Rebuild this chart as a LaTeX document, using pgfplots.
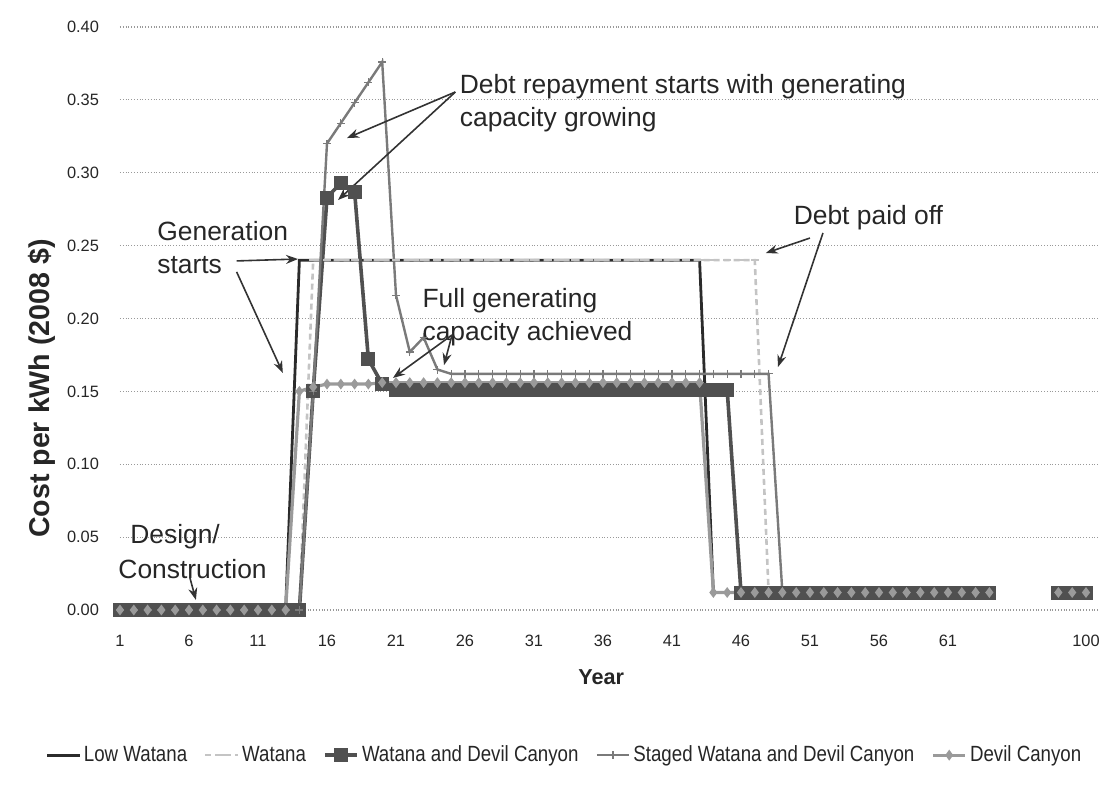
\documentclass[border=0pt]{standalone}
\usepackage{pgfplots}
\pgfplotsset{compat=1.18}
\usepackage{pgfplotstable}
\usetikzlibrary{arrows.meta}
\usepackage{fontspec}
\setmainfont{Liberation Sans}
\newfontfamily\narrowfont[FakeStretch=0.85]{Liberation Sans}

\definecolor{clw}{HTML}{2B2B2B}
\definecolor{cw}{HTML}{C4C4C4}
\definecolor{cwdc}{HTML}{505050}
\definecolor{cswdc}{HTML}{7A7A7A}
\definecolor{cdc}{HTML}{9A9A9A}
\definecolor{cann}{HTML}{333333}

\pgfplotstableread{
x lw w wdc swdc dc
1 0 0 0 0 0
2 0 0 0 0 0
3 0 0 0 0 0
4 0 0 0 0 0
5 0 0 0 0 0
6 0 0 0 0 0
7 0 0 0 0 0
8 0 0 0 0 0
9 0 0 0 0 0
10 0 0 0 0 0
11 0 0 0 0 0
12 0 0 0 0 0
13 0 0 0 0 0
14 0.24 0 0 0 0.150
15 0.24 0.24 0.150 0.150 0.153
16 0.24 0.24 0.283 0.320 0.155
17 0.24 0.24 0.293 0.334 0.155
18 0.24 0.24 0.287 0.348 0.155
19 0.24 0.24 0.172 0.362 0.155
20 0.24 0.24 0.155 0.376 0.156
21 0.24 0.24 0.151 0.216 0.156
22 0.24 0.24 0.151 0.177 0.156
23 0.24 0.24 0.151 0.187 0.156
24 0.24 0.24 0.151 0.165 0.156
25 0.24 0.24 0.151 0.162 0.156
26 0.24 0.24 0.151 0.162 0.156
27 0.24 0.24 0.151 0.162 0.156
28 0.24 0.24 0.151 0.162 0.156
29 0.24 0.24 0.151 0.162 0.156
30 0.24 0.24 0.151 0.162 0.156
31 0.24 0.24 0.151 0.162 0.156
32 0.24 0.24 0.151 0.162 0.156
33 0.24 0.24 0.151 0.162 0.156
34 0.24 0.24 0.151 0.162 0.156
35 0.24 0.24 0.151 0.162 0.156
36 0.24 0.24 0.151 0.162 0.156
37 0.24 0.24 0.151 0.162 0.156
38 0.24 0.24 0.151 0.162 0.156
39 0.24 0.24 0.151 0.162 0.156
40 0.24 0.24 0.151 0.162 0.156
41 0.24 0.24 0.151 0.162 0.156
42 0.24 0.24 0.151 0.162 0.156
43 0.24 0.24 0.151 0.162 0.156
44 0.012 0.24 0.151 0.162 0.012
45 0.012 0.24 0.151 0.162 0.012
46 0.012 0.24 0.012 0.162 0.012
47 0.012 0.24 0.012 0.162 0.012
48 0.012 0.012 0.012 0.162 0.012
49 0.012 0.012 0.012 0.012 0.012
50 0.012 0.012 0.012 0.012 0.012
51 0.012 0.012 0.012 0.012 0.012
52 0.012 0.012 0.012 0.012 0.012
53 0.012 0.012 0.012 0.012 0.012
54 0.012 0.012 0.012 0.012 0.012
55 0.012 0.012 0.012 0.012 0.012
56 0.012 0.012 0.012 0.012 0.012
57 0.012 0.012 0.012 0.012 0.012
58 0.012 0.012 0.012 0.012 0.012
59 0.012 0.012 0.012 0.012 0.012
60 0.012 0.012 0.012 0.012 0.012
61 0.012 0.012 0.012 0.012 0.012
62 0.012 0.012 0.012 0.012 0.012
63 0.012 0.012 0.012 0.012 0.012
64 0.012 0.012 0.012 0.012 0.012
66 nan nan nan nan nan
69 0.012 0.012 0.012 0.012 0.012
70 0.012 0.012 0.012 0.012 0.012
71 0.012 0.012 0.012 0.012 0.012
}\datatable

\begin{document}
\begin{tikzpicture}
\useasboundingbox (-60pt,-98.5pt) rectangle (494.5pt,305pt);
\begin{axis}[
  at={(0,0)}, anchor=south west,
  scale only axis, width=489pt, height=291.5pt,
  xmin=1, xmax=71.87, ymin=0, ymax=0.4,
  clip=false,
  unbounded coords=jump,
  xtick={1,6,11,16,21,26,31,36,41,46,51,56,61,71},
  xticklabels={1,6,11,16,21,26,31,36,41,46,51,56,61,100},
  ytick={0,0.05,0.1,0.15,0.2,0.25,0.3,0.35,0.4},
  ymajorgrids,
  major grid style={black!40, densely dotted, line width=0.6pt},
  axis line style={draw=none},
  tick style={draw=none},
  /pgf/number format/assume math mode=true,
  ticklabel style={font=\fontsize{8.2}{10}\selectfont, text=black!85},
  yticklabel style={/pgf/number format/fixed, /pgf/number format/fixed zerofill, /pgf/number format/precision=2, xshift=-7pt},
  xticklabel style={yshift=-9pt},
  xlabel={Year},
  xlabel style={at={(axis description cs:0.492,-0.115)}, anchor=center, font=\bfseries\fontsize{10.8}{13}\selectfont, text=black!85},
  ylabel={Cost per kWh (2008 \$)},
  ylabel style={at={(axis description cs:-0.0798,0.38)}, anchor=center, font=\bfseries\fontsize{14.3}{16}\selectfont, text=black!85},
  legend style={at={(axis description cs:0.455,-0.249)}, anchor=center, draw=none, fill=none,
    legend columns=5, font=\narrowfont\fontsize{11}{13}\selectfont, text=black!85,
    nodes={inner xsep=1.5pt},
    /tikz/every even column/.append style={column sep=7pt}},
  legend cell align=left,
  legend image post style={xscale=0.95},
]
\addplot[clw, line width=1.4pt, no markers] table[x=x, y=lw] {\datatable};
\addlegendentry{Low Watana}
\addplot[cw, line width=1.3pt, densely dashed, mark=-, mark size=2pt, mark options={solid}] table[x=x, y=w] {\datatable};
\addlegendentry{Watana}
\addplot[cwdc, line width=1.8pt, mark=square*, mark size=2.6pt, mark options={solid, fill=cwdc}] table[x=x, y=wdc] {\datatable};
\addlegendentry{Watana and Devil Canyon}
\addplot[cswdc, line width=1.2pt, mark=+, mark size=2pt, mark options={solid, line width=0.6pt}] table[x=x, y=swdc] {\datatable};
\addlegendentry{Staged Watana and Devil Canyon}
\addplot[cdc, line width=1.6pt, mark=diamond*, mark size=1.4pt, mark options={solid, fill=cdc}] table[x=x, y=dc] {\datatable};
\addlegendentry{Devil Canyon}

% annotations
\tikzset{ann/.style={font=\fontsize{13.2}{16.5}\selectfont, text=black!85, inner sep=0pt, align=left},
         arr/.style={-{Stealth[length=6pt,width=4.5pt]}, line width=0.8pt, draw=cann}}
\node[ann, anchor=west] at (axis cs:25.6,0.3475) {Debt repayment starts with generating\\capacity growing};
\draw[arr] (axis cs:25.3,0.3554) -- (axis cs:17.45,0.3238);
\draw[arr] (axis cs:25.3,0.3554) -- (axis cs:16.8,0.2813);

\node[ann, anchor=west] at (axis cs:3.68,0.249) {Generation\\starts};
\draw[arr] (axis cs:9.45,0.2395) -- (axis cs:13.9,0.2408);
\draw[arr] (axis cs:9.45,0.232) -- (axis cs:12.8,0.1626);

\node[ann, anchor=west] at (axis cs:22.9,0.201) {Full generating\\capacity achieved};
\draw[arr] (axis cs:25.06,0.1887) -- (axis cs:20.78,0.1592);
\draw[arr] (axis cs:25.06,0.1887) -- (axis cs:24.48,0.168);

\node[ann, anchor=west] at (axis cs:49.8,0.269) {Debt paid off};
\draw[arr] (axis cs:51.0,0.2552) -- (axis cs:47.8,0.2449);
\draw[arr] (axis cs:51.94,0.2587) -- (axis cs:48.68,0.1667);

\node[ann, anchor=west] at (axis cs:1.72,0.0501) {Design/};
\node[ann, anchor=west] at (axis cs:0.86,0.0281) {Construction};
\draw[arr] (axis cs:6.07,0.022) -- (axis cs:6.5,0.0069);
\end{axis}
\end{tikzpicture}
\end{document}
